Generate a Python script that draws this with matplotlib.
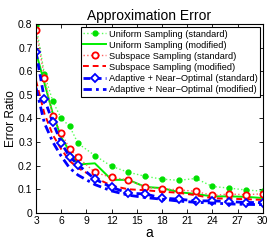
import numpy as np
import matplotlib.pyplot as plt

plt.rcParams['font.family'] = ['Liberation Sans', 'DejaVu Sans']

a = [3, 4, 5, 6, 7, 8, 10, 12, 14, 16, 18, 20, 22, 24, 26, 28, 30]

uniform_std = [0.795, 0.587, 0.472, 0.40, 0.367, 0.294, 0.243, 0.197, 0.172, 0.155,
               0.143, 0.138, 0.146, 0.112, 0.105, 0.097, 0.092]
uniform_mod = [0.68, 0.55, 0.42, 0.32, 0.26, 0.205, 0.21, 0.14, 0.14, 0.11,
               0.105, 0.088, 0.08, 0.07, 0.07, 0.068, 0.063]
subspace_std = [0.774, 0.573, 0.409, 0.339, 0.271, 0.235, 0.172, 0.150, 0.140, 0.108,
                0.102, 0.098, 0.091, 0.074, 0.080, 0.077, 0.081]
subspace_mod = [0.56, 0.42, 0.33, 0.27, 0.22, 0.19, 0.15, 0.115, 0.10, 0.096,
                0.09, 0.085, 0.075, 0.062, 0.06, 0.058, 0.055]
adaptive_std = [0.68, 0.481, 0.384, 0.296, 0.238, 0.204, 0.143, 0.108, 0.084, 0.080,
                0.063, 0.058, 0.051, 0.051, 0.048, 0.044, 0.044]
adaptive_mod = [0.53, 0.38, 0.30, 0.24, 0.19, 0.16, 0.12, 0.093, 0.075, 0.065,
                0.058, 0.05, 0.045, 0.042, 0.038, 0.036, 0.035]

labels = ['Uniform Sampling (standard)', 'Uniform Sampling (modified)',
          'Subspace Sampling (standard)', 'Subspace Sampling (modified)',
          'Adaptive + Near\u2212Optimal (standard)', 'Adaptive + Near\u2212Optimal (modified)']

fig = plt.figure(figsize=(2.73, 2.45), dpi=100)
ax = fig.add_axes([0.132, 0.131, 0.831, 0.771])

ax.plot(a, uniform_std, ':', color='#55ff55', lw=1, marker='o', ms=3.5,
        mfc='#00e000', mec='#00e000', label=labels[0])
ax.plot(a, uniform_mod, '-', color='#00ee00', lw=1.4, label=labels[1])
ax.plot(a, subspace_std, ':', color='#ff6060', lw=1, marker='o', ms=4.5,
        mfc='white', mec='red', mew=1.3, label=labels[2])
ax.plot(a, subspace_mod, '--', color='red', lw=1.4, dashes=(3, 2), label=labels[3])
ax.plot(a, adaptive_std, '--', color='blue', lw=2, dashes=(2.5, 1.5), marker='D', ms=4,
        mfc='white', mec='blue', mew=1.3, label=labels[4])
ax.plot(a, adaptive_mod, '-.', color='blue', lw=2, dashes=(3, 1.5, 1, 1.5), label=labels[5])

ax.set_xlim(3, 30)
ax.set_ylim(0, 0.8)
ax.set_xticks(np.arange(3, 31, 3))
ax.set_yticks(np.arange(0, 0.81, 0.1))
ax.set_yticklabels(['0', '0.1', '0.2', '0.3', '0.4', '0.5', '0.6', '0.7', '0.8'])
ax.tick_params(direction='in', top=True, right=True, labelsize=7.5, length=3, width=0.6, pad=2.5)
for s in ax.spines.values():
    s.set_linewidth(0.8)

ax.set_title('Approximation Error', fontsize=10, pad=3)
ax.set_xlabel('a', fontsize=10, labelpad=0)
ax.set_ylabel('Error Ratio', fontsize=8.5, labelpad=1)

leg = ax.legend(loc='upper right', fontsize=6.7, handlelength=2.4, handletextpad=0.3,
                labelspacing=0.22, borderpad=0.3, borderaxespad=0.3, fancybox=False,
                framealpha=1, edgecolor='black')
leg.get_frame().set_linewidth(0.8)

fig.savefig('out.png', dpi=100)
